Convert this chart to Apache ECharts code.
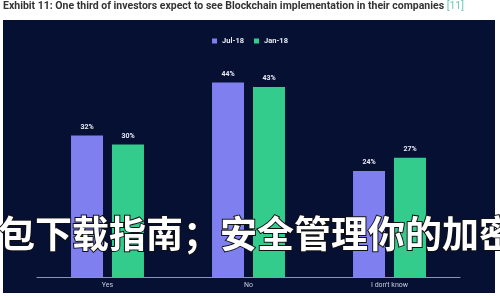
<!DOCTYPE html>
<html><head><meta charset="utf-8">
<style>html,body{margin:0;padding:0;background:#fff;}#c{width:500px;height:300px;}</style>
<script src="https://cdn.jsdelivr.net/npm/echarts@6/dist/echarts.min.js"></script>
</head><body><div id="c"></div>
<script>
const categories = ['Yes', 'No', "I don't know"];
const seriesNames = ['Jul-18', 'Jan-18'];
const jul18 = [32, 44, 24];
const jan18 = [30, 43, 27];
const titleText = 'Exhibit 11: One third of investors expect to see Blockchain implementation in their companies ';
const refText = '[11]';
const overlayText = '包下载指南；安全管理你的加密';

const chart = echarts.init(document.getElementById('c'), null, {renderer: 'canvas'});
const labelStyle = {show: true, position: 'top', distance: 5, color: '#e8eaf5', fontSize: 7, fontWeight: 'bold', fontFamily: 'Roboto', formatter: p => p.value + '%'};
chart.setOption({
  backgroundColor: '#fff',
  animation: false,
  graphic: [
    {type: 'rect', left: 3, top: 20, shape: {width: 492, height: 273}, style: {fill: '#061033'}, z: -10},
    {type: 'text', left: 3, top: 1, style: {
      text: '{t|' + titleText + '}{r|' + refText + '}',
      rich: {
        t: {fontSize: 10.5, fontWeight: 'bold', fill: '#333', fontFamily: 'Roboto'},
        r: {fontSize: 10.5, fill: '#6cc8b8', fontFamily: 'Roboto'}
      }
    }},
    {type: 'text', x: -2, y: 234, z: 100, style: {
      text: overlayText, fontSize: 37, fontWeight: 'bold', fontFamily: 'Noto Sans CJK SC',
      fill: '#ffffff', stroke: '#111', lineWidth: 2, verticalAlign: 'middle', align: 'left'
    }}
  ],
  legend: {
    top: 32, left: 'center', itemWidth: 5, itemHeight: 5, itemGap: 10, icon: 'rect',
    textStyle: {color: '#e8eaf5', fontSize: 7.5, fontWeight: 'bold', fontFamily: 'Roboto'},
    data: seriesNames
  },
  grid: {left: 37, right: 40, top: 56, bottom: 23},
  xAxis: {
    type: 'category', data: categories,
    axisLine: {lineStyle: {color: '#8a93b8', width: 1}},
    axisTick: {show: false},
    axisLabel: {color: '#c8cce0', fontSize: 7, fontFamily: 'Roboto', margin: 5}
  },
  yAxis: {type: 'value', min: 0, max: 50, show: false, splitLine: {show: false}},
  series: [
    {name: seriesNames[0], type: 'bar', data: jul18, barWidth: 32, barGap: '28%', itemStyle: {color: '#7f7ff0'}, label: labelStyle},
    {name: seriesNames[1], type: 'bar', data: jan18, barWidth: 32, itemStyle: {color: '#33cc8c'}, label: labelStyle}
  ]
});
</script></body></html>
